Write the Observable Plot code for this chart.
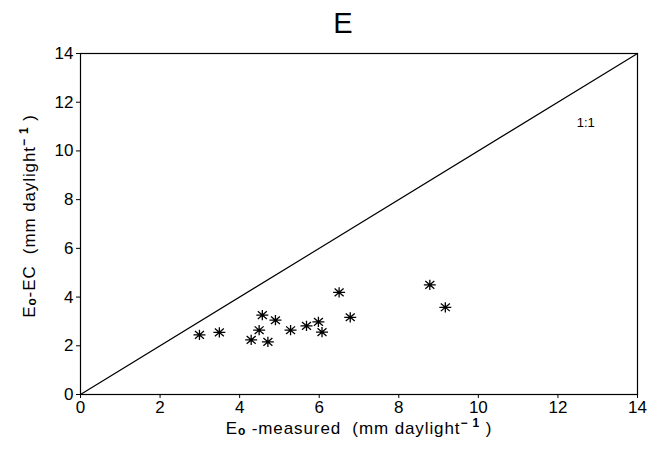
<!DOCTYPE html>
<html>
<head>
<meta charset="utf-8">
<script src="https://cdn.jsdelivr.net/npm/d3@7"></script>
<script src="https://cdn.jsdelivr.net/npm/@observablehq/plot@0.6"></script>
<style>
  html, body { margin: 0; padding: 0; background: #fff; }
  #chart svg { display: block; }
</style>
</head>
<body>
<div id="chart"></div>
<script>
// ---- data ----
const measured = [2.99, 3.49, 4.29, 4.49, 4.57, 4.71, 4.90, 5.28, 5.68, 5.98, 6.07, 6.50, 6.78, 8.78, 9.17];
const eoEC     = [2.45, 2.55, 2.24, 2.64, 3.26, 2.16, 3.05, 2.64, 2.82, 2.98, 2.56, 4.19, 3.17, 4.50, 3.58];
const oneToOneX = [0, 14];
const oneToOneY = [0, 14];
const lineLabel = [{x: 12.7, y: 11.15, text: "1:1"}];
const xTicks = [0, 2, 4, 6, 8, 10, 12, 14];
const yTicks = [0, 2, 4, 6, 8, 10, 12, 14];
const titleText = "E";

const points = measured.map((m, i) => ({x: m, y: eoEC[i]}));
const diag = oneToOneX.map((x, i) => ({x, y: oneToOneY[i]}));

// 8-armed asterisk symbol
const star = {
  draw(ctx, size) {
    const r = Math.sqrt(size / Math.PI);
    const rv = r * 0.85, rd = r * 0.75;
    ctx.moveTo(-r, 0); ctx.lineTo(r, 0);
    ctx.moveTo(0, -rv); ctx.lineTo(0, rv);
    ctx.moveTo(-rd, -rd * 0.85); ctx.lineTo(rd, rd * 0.85);
    ctx.moveTo(-rd, rd * 0.85); ctx.lineTo(rd, -rd * 0.85);
  }
};

const font = "'Liberation Sans', Arial, Helvetica, sans-serif";

const plot = Plot.plot({
  width: 667,
  height: 450,
  marginLeft: 80,
  marginRight: 30,
  marginTop: 53,
  marginBottom: 56,
  style: {fontFamily: font, fontSize: "17px", color: "#000", background: "#fff"},
  x: {domain: [0, 14], ticks: xTicks, label: null},
  y: {domain: [0, 14], ticks: yTicks, label: null},
  marks: [
    Plot.frame({stroke: "#000", strokeWidth: 1.2}),
    Plot.axisX({ticks: xTicks, tickSize: 4, tickPadding: 2, fontSize: 17, label: null, stroke: "#000"}),
    Plot.axisY({ticks: yTicks, tickSize: 4, tickPadding: 3, fontSize: 17, label: null, stroke: "#000"}),
    Plot.line(diag, {x: "x", y: "y", stroke: "#000", strokeWidth: 1.2}),
    Plot.text(lineLabel, {x: "x", y: "y", text: "text", fontSize: 13, fill: "#000"}),
    Plot.dot(points, {x: "x", y: "y", symbol: star, r: 6, stroke: "#000", strokeWidth: 1.3, fill: "none"})
  ]
});

document.getElementById("chart").appendChild(plot);

const svg = d3.select(plot);

// title
svg.append("text")
  .attr("x", 343).attr("y", 33)
  .attr("text-anchor", "middle")
  .attr("font-family", font)
  .attr("font-size", 29)
  .attr("fill", "#000")
  .text(titleText);

function labelWithSubSup(sel, before) {
  sel.append("tspan").text("E");
  sel.append("tspan").attr("font-size", "12").attr("font-weight", "bold").attr("dy", "1").text("o");
  sel.append("tspan").attr("dy", "-1").text(before + "(mm daylight");
  sel.append("tspan").attr("font-size", "12").attr("font-weight", "bold").attr("dy", "-7").text("\u2212 1");
  sel.append("tspan").attr("dy", "7").text(" )");
}

// x axis label
const xl = svg.append("text")
  .attr("x", 359).attr("y", 434)
  .attr("text-anchor", "middle")
  .attr("font-family", font)
  .attr("font-size", 17)
  .attr("letter-spacing", "0.9")
  .attr("fill", "#000")
  .style("white-space", "pre");
labelWithSubSup(xl, " -measured  ");

// y axis label
const yl = svg.append("text")
  .attr("transform", "translate(35,216) rotate(-90)")
  .attr("text-anchor", "middle")
  .attr("font-family", font)
  .attr("font-size", 17)
  .attr("letter-spacing", "0.9")
  .attr("fill", "#000")
  .style("white-space", "pre");
labelWithSubSup(yl, "-EC  ");
</script>
</body>
</html>
